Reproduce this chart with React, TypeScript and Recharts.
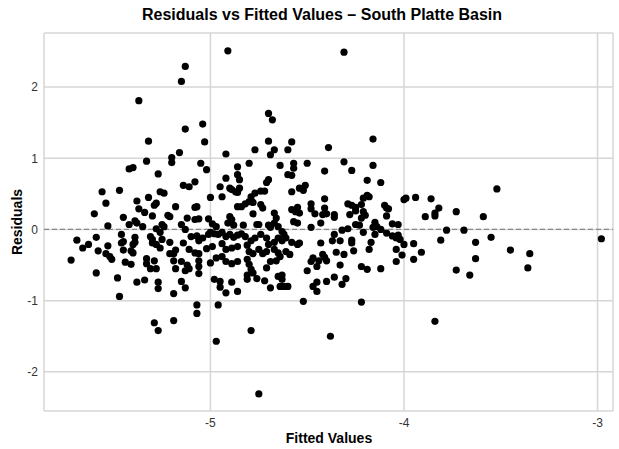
import { ScatterChart, Scatter, XAxis, YAxis, CartesianGrid, ReferenceLine } from 'recharts'

// [fitted, residual] pairs, grouped by where they fall on the plot
const upperObs: [number, number][] = [
  [-4.91, 2.51], [-5.13, 2.29], [-5.15, 2.08], [-4.31, 2.49], [-5.37, 1.81], [-5.32, 1.24],
  [-5.16, 1.08], [-4.70, 1.63], [-4.68, 1.54], [-5.13, 1.41], [-5.04, 1.48], [-5.03, 1.23],
  [-4.92, 1.06], [-4.77, 1.12], [-4.70, 1.24], [-4.67, 1.12], [-4.69, 1.05], [-4.60, 1.12],
  [-4.58, 1.23], [-4.16, 1.27], [-4.39, 1.15],
]

const lowerObs: [number, number][] = [
  [-5.15, -0.73], [-5.27, -0.83], [-5.47, -0.94], [-5.29, -1.31], [-5.27, -1.42], [-5.19, -0.90],
  [-5.19, -1.28], [-5.13, -0.82], [-4.98, -0.70], [-4.95, -0.73], [-4.95, -0.81], [-4.89, -0.74],
  [-4.92, -0.89], [-4.86, -0.87], [-4.81, -0.70], [-4.69, -0.82], [-4.64, -0.80], [-4.62, -0.80],
  [-4.60, -0.80], [-4.63, -0.70], [-4.47, -0.80], [-4.45, -0.74], [-4.45, -0.87], [-5.07, -1.06],
  [-5.07, -1.18], [-4.96, -1.06], [-4.52, -1.01], [-4.79, -1.42], [-4.97, -1.57], [-4.75, -2.31],
  [-4.40, -0.73], [-4.32, -0.77], [-4.30, -0.69], [-4.22, -1.02], [-4.38, -1.50], [-3.84, -1.29],
]

const westObs: [number, number][] = [
  [-5.20, 1.01], [-5.20, 0.94], [-5.33, 0.96], [-5.42, 0.85], [-5.40, 0.87], [-5.27, 0.78],
  [-5.56, 0.53], [-5.47, 0.55], [-5.54, 0.37], [-5.26, 0.53], [-5.24, 0.51], [-5.38, 0.40],
  [-5.32, 0.45], [-5.28, 0.37], [-5.29, 0.34], [-5.18, 0.32], [-5.37, 0.29], [-5.34, 0.24],
  [-5.60, 0.22], [-5.45, 0.17], [-5.30, 0.19], [-5.22, 0.20], [-5.21, 0.18], [-5.39, 0.12],
  [-5.38, 0.09], [-5.53, 0.05], [-5.42, 0.07], [-5.35, 0.04], [-5.28, 0.01], [-5.25, 0.07],
  [-5.24, 0.04], [-5.26, -0.04], [-5.46, -0.07], [-5.59, -0.11], [-5.69, -0.15], [-5.63, -0.21],
  [-5.66, -0.26], [-5.53, -0.23], [-5.39, -0.11], [-5.31, -0.10], [-5.30, -0.14], [-5.45, -0.17],
  [-5.46, -0.19], [-5.39, -0.18], [-5.40, -0.21], [-5.58, -0.30], [-5.45, -0.29], [-5.41, -0.30],
  [-5.40, -0.33], [-5.30, -0.19], [-5.28, -0.21], [-5.25, -0.14], [-5.26, -0.26], [-5.21, -0.18],
  [-5.54, -0.34], [-5.52, -0.38], [-5.51, -0.42], [-5.72, -0.43], [-5.44, -0.46], [-5.41, -0.49],
  [-5.33, -0.48], [-5.33, -0.41], [-5.29, -0.44], [-5.21, -0.34], [-5.19, -0.34], [-5.18, -0.29],
  [-5.19, -0.44], [-5.31, -0.55], [-5.28, -0.55], [-5.18, -0.55], [-5.59, -0.61], [-5.48, -0.68],
  [-5.38, -0.74], [-5.34, -0.71], [-5.27, -0.74],
]

const centralObs: [number, number][] = [
  [-5.05, 0.93], [-5.02, 0.84], [-5.14, 0.62], [-5.11, 0.60], [-5.08, 0.67], [-5.00, 0.45],
  [-4.95, 0.60], [-4.94, 0.46], [-4.92, 0.72], [-4.86, 0.88], [-4.86, 0.77], [-4.85, 0.70],
  [-4.85, 0.58], [-4.90, 0.58], [-4.89, 0.56], [-4.87, 0.53], [-4.86, 0.52], [-4.80, 0.93],
  [-4.71, 0.66], [-4.70, 0.70], [-4.74, 0.54], [-4.72, 0.54], [-4.77, 0.51], [-4.79, 0.46],
  [-4.80, 0.39], [-4.82, 0.36], [-4.84, 0.32], [-4.86, 0.32], [-4.78, 0.38], [-4.74, 0.35],
  [-4.73, 0.30], [-4.78, 0.22], [-4.64, 0.90], [-4.60, 0.77], [-4.58, 0.76], [-4.57, 0.93],
  [-4.57, 0.86], [-4.50, 0.93], [-4.58, 0.53], [-4.54, 0.58], [-4.51, 0.62], [-4.52, 0.55],
  [-5.08, 0.31], [-5.07, 0.32], [-5.12, 0.16], [-5.08, 0.14], [-5.06, 0.15], [-5.15, 0.07],
  [-5.01, 0.15], [-4.99, 0.08], [-4.97, 0.04], [-4.90, 0.18], [-4.89, 0.14], [-4.91, 0.09],
  [-4.88, 0.06], [-4.83, 0.06], [-4.76, 0.07], [-4.75, 0.07], [-4.70, 0.06], [-4.69, 0.03],
  [-4.67, 0.09], [-4.67, 0.23], [-4.66, 0.16], [-4.58, 0.28], [-4.56, 0.25], [-4.55, 0.31],
  [-4.54, 0.23], [-4.57, 0.11], [-4.55, 0.09], [-4.48, 0.36], [-4.48, 0.29], [-4.46, 0.22],
  [-4.48, 0.03], [-4.43, 0.09], [-4.41, 0.82], [-4.65, 0.04], [-4.63, -0.03], [-4.62, -0.07],
  [-5.13, 0.00], [-5.14, -0.19], [-5.10, -0.10], [-5.07, -0.09], [-5.06, -0.16], [-5.04, -0.12],
  [-5.01, -0.07], [-5.00, -0.04], [-4.98, -0.06], [-4.96, -0.07], [-4.94, -0.04], [-4.92, -0.10],
  [-4.90, -0.07], [-4.88, -0.11], [-4.86, -0.08], [-4.84, -0.06], [-4.82, -0.10], [-4.79, -0.16],
  [-4.77, -0.12], [-4.74, -0.07], [-4.71, -0.12], [-4.70, -0.21], [-4.67, -0.18], [-4.65, -0.12],
  [-4.63, -0.16], [-4.61, -0.12], [-4.58, -0.18], [-4.55, -0.21], [-4.54, -0.19],
  [-5.11, -0.28], [-5.08, -0.33], [-5.06, -0.34], [-5.02, -0.27], [-4.99, -0.24], [-4.94, -0.20],
  [-4.92, -0.28], [-4.89, -0.26], [-4.86, -0.24], [-4.81, -0.22], [-4.80, -0.31], [-4.78, -0.34],
  [-4.75, -0.28], [-4.73, -0.34], [-4.71, -0.31], [-4.67, -0.28], [-4.65, -0.33], [-4.64, -0.38],
  [-4.61, -0.31], [-4.59, -0.35],
  [-5.15, -0.45], [-5.12, -0.50], [-5.13, -0.58], [-5.11, -0.55], [-5.06, -0.44], [-5.06, -0.52],
  [-5.06, -0.62], [-5.00, -0.47], [-4.97, -0.40], [-4.94, -0.38], [-4.92, -0.45], [-4.89, -0.48],
  [-4.86, -0.45], [-4.81, -0.42], [-4.80, -0.49], [-4.79, -0.56], [-4.78, -0.61], [-4.81, -0.64],
  [-4.71, -0.54], [-4.69, -0.45], [-4.66, -0.44], [-4.63, -0.64], [-4.50, -0.58], [-4.48, -0.45],
  [-4.47, -0.40], [-4.44, -0.44], [-4.42, -0.35], [-4.45, -0.52], [-4.76, -0.69], [-4.72, -0.72],
  [-4.65, -0.66],
]

const eastObs: [number, number][] = [
  [-4.31, 0.95], [-4.27, 0.83], [-4.16, 0.90], [-4.19, 0.69], [-4.12, 0.66], [-4.41, 0.43],
  [-4.41, 0.30], [-4.42, 0.21], [-4.29, 0.36], [-4.27, 0.34], [-4.25, 0.31], [-4.22, 0.35],
  [-4.21, 0.44], [-4.19, 0.48], [-4.18, 0.46], [-4.28, 0.21], [-4.25, 0.26], [-4.21, 0.25],
  [-4.20, 0.20], [-4.22, 0.16], [-4.25, 0.07], [-4.23, 0.06], [-4.40, 0.22], [-4.36, 0.21],
  [-4.36, 0.17], [-4.10, 0.34], [-4.09, 0.30], [-4.08, 0.29], [-4.09, 0.19], [-4.06, 0.08],
  [-4.03, 0.07], [-4.15, 0.10], [-4.14, 0.04], [-4.16, 0.03], [-4.32, -0.01], [-4.29, 0.01],
  [-4.21, -0.04], [-4.12, 0.00], [-4.09, -0.05], [-4.00, 0.42], [-3.99, 0.44], [-3.94, 0.45],
  [-3.86, 0.43], [-3.82, 0.30], [-3.84, 0.23], [-3.84, 0.19], [-3.89, 0.18], [-3.73, 0.25],
  [-3.78, -0.01], [-3.69, -0.01],
  [-4.43, -0.19], [-4.41, -0.39], [-4.40, -0.44], [-4.36, -0.07], [-4.37, -0.16], [-4.33, -0.16],
  [-4.35, -0.32], [-4.31, -0.35], [-4.27, -0.15], [-4.27, -0.19], [-4.26, -0.30], [-4.17, -0.18],
  [-4.18, -0.28], [-4.15, -0.07], [-4.06, -0.09], [-4.04, -0.12], [-4.03, -0.08], [-4.02, -0.14],
  [-4.00, -0.21], [-3.95, -0.20], [-4.04, -0.28], [-4.01, -0.36], [-4.04, -0.45], [-3.91, -0.32],
  [-3.95, -0.42], [-3.81, -0.15], [-4.33, -0.50], [-4.22, -0.52], [-4.19, -0.56], [-4.12, -0.55],
  [-4.36, -0.67], [-3.73, -0.57],
  [-3.52, 0.57], [-3.59, 0.18], [-3.55, -0.11], [-3.63, -0.18], [-3.45, -0.29], [-3.35, -0.34],
  [-3.63, -0.41], [-3.36, -0.54], [-3.66, -0.64], [-2.98, -0.13],
]

const xTicks = [-5, -4, -3]
const yTicks = [-2, -1, 0, 1, 2]

const points = [...upperObs, ...westObs, ...centralObs, ...eastObs, ...lowerObs].map(
  ([fitted, residual]) => ({ fitted, residual })
)

const FONT = '"Liberation Sans", Arial, sans-serif'

const XTitle = () => (
  <text x={329} y={443} textAnchor="middle" fontSize={14} fontWeight="bold" fill="#000" fontFamily={FONT}>
    Fitted Values
  </text>
)

const YTitle = () => (
  <text
    x={17}
    y={222}
    transform="rotate(-90, 17, 222)"
    textAnchor="middle"
    dominantBaseline="central"
    fontSize={14}
    fontWeight="bold"
    fill="#000"
    fontFamily={FONT}
  >
    Residuals
  </text>
)

const Dot = (props: any) => <circle cx={props.cx} cy={props.cy} r={3.6} fill="#000" />

export default function App() {
  return (
    <div style={{ position: 'absolute', left: 0, top: 0, width: 619, height: 449, background: '#fff', fontFamily: FONT }}>
      <div
        style={{
          position: 'absolute',
          top: 6,
          left: 322,
          transform: 'translateX(-50%)',
          whiteSpace: 'nowrap',
          fontSize: 16,
          lineHeight: '18px',
          fontWeight: 'bold',
          color: '#000',
        }}
      >
        Residuals vs Fitted Values – South Platte Basin
      </div>
      <ScatterChart width={619} height={449} margin={{ top: 33, right: 6, bottom: 0, left: 0 }}>
        <CartesianGrid stroke="#d6d6d6" strokeWidth={1.5} />
        <XAxis
          type="number"
          dataKey="fitted"
          domain={[-5.86, -2.92]}
          ticks={xTicks}
          allowDataOverflow
          axisLine={false}
          tickLine={false}
          tickSize={0}
          tickMargin={7}
          height={38}
          tick={{ fontSize: 12, fill: '#333' }}
          label={<XTitle />}
        />
        <YAxis
          type="number"
          dataKey="residual"
          domain={[-2.55, 2.76]}
          ticks={yTicks}
          allowDataOverflow
          axisLine={false}
          tickLine={false}
          tickSize={0}
          tickMargin={6}
          width={44}
          tick={{ fontSize: 12, fill: '#333' }}
          label={<YTitle />}
        />
        <ReferenceLine y={0} stroke="#8a8a8a" strokeWidth={1.2} strokeDasharray="5 3" />
        <Scatter data={points} shape={Dot} isAnimationActive={false} />
      </ScatterChart>
    </div>
  )
}
